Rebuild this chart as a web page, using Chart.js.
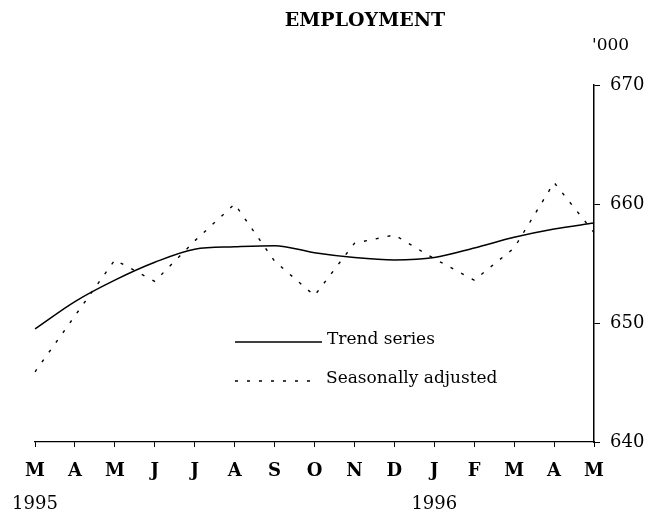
<!DOCTYPE html>
<html>
<head>
<meta charset="utf-8">
<style>
  html, body { margin: 0; padding: 0; background: #fff; }
  #wrap { width: 657px; height: 513px; }
</style>
<script src="https://cdn.jsdelivr.net/npm/chart.js@4.4.0/dist/chart.umd.min.js"></script>
</head>
<body>
<div id="wrap"><canvas id="chart" width="657" height="513"></canvas></div>
<script>
// data
var months = ['M', 'A', 'M', 'J', 'J', 'A', 'S', 'O', 'N', 'D', 'J', 'F', 'M', 'A', 'M'];
var years = ['1995', '', '', '', '', '', '', '', '', '', '1996', '', '', '', ''];
var trendSeries = [649.5, 651.8, 653.6, 655.1, 656.2, 656.4, 656.5, 655.9, 655.5, 655.3, 655.5, 656.3, 657.2, 657.9, 658.4];
var seasonallyAdjusted = [645.9, 650.6, 655.3, 653.5, 656.9, 660.0, 655.2, 652.3, 656.7, 657.4, 655.4, 653.6, 656.3, 661.8, 657.6];
var yTicks = [640, 650, 660, 670];
var chartTitle = 'EMPLOYMENT';
var unitLabel = "'000";

var serif = "'DejaVu Serif', 'Liberation Serif', serif";

// title, unit label and the in-plot legend
var overlayText = {
    id: 'overlayText',
    afterDraw: function(chart) {
        var ctx = chart.ctx;
        var area = chart.chartArea;
        ctx.save();
        ctx.fillStyle = '#000';
        ctx.textBaseline = 'middle';

        ctx.font = 'bold 19px ' + serif;
        ctx.textAlign = 'center';
        ctx.fillText(chartTitle, 365, 21);

        ctx.font = '17px ' + serif;
        ctx.textAlign = 'left';
        ctx.fillText(unitLabel, area.right - 2, 46);

        // legend
        var sets = chart.data.datasets;
        var rows = [342, 381];
        sets.forEach(function(ds, i) {
            var y = rows[i];
            ctx.strokeStyle = '#000';
            ctx.lineWidth = ds.borderWidth;
            ctx.setLineDash(ds.borderDash || []);
            ctx.beginPath();
            ctx.moveTo(235, y);
            ctx.lineTo(i === 0 ? 322 : 318, y);
            ctx.stroke();
            ctx.setLineDash([]);
            ctx.fillText(ds.label, i === 0 ? 327 : 326, y - 2);
        });
        ctx.restore();
    }
};

var ctx = document.getElementById('chart').getContext('2d');
var employmentChart = new Chart(ctx, {
    type: 'line',
    data: {
        labels: months,
        datasets: [{
            label: 'Trend series',
            data: trendSeries,
            borderColor: '#000',
            borderWidth: 1.5,
            pointRadius: 0,
            cubicInterpolationMode: 'monotone',
            fill: false
        }, {
            label: 'Seasonally adjusted',
            data: seasonallyAdjusted,
            borderColor: '#000',
            borderWidth: 1.4,
            borderDash: [3, 9],
            pointRadius: 0,
            tension: 0,
            fill: false
        }]
    },
    options: {
        responsive: false,
        animation: false,
        devicePixelRatio: 1,
        layout: {
            padding: { top: 85, left: 35, right: 0, bottom: 0 }
        },
        plugins: {
            legend: { display: false },
            title: { display: false },
            tooltip: { enabled: false }
        },
        scales: {
            x: {
                type: 'category',
                offset: false,
                grid: {
                    drawOnChartArea: false,
                    drawTicks: true,
                    tickLength: 5,
                    color: '#000',
                    lineWidth: 1
                },
                border: { display: true, color: '#000', width: 1.2 },
                ticks: {
                    autoSkip: false,
                    maxRotation: 0,
                    color: '#000',
                    padding: 14,
                    font: { family: serif, size: 18, weight: 'bold' }
                },
                afterFit: function(scale) { scale.height = 40; }
            },
            years: {
                type: 'category',
                position: 'bottom',
                labels: years,
                offset: false,
                grid: { display: false, drawTicks: false },
                border: { display: false },
                ticks: {
                    autoSkip: false,
                    maxRotation: 0,
                    color: '#000',
                    padding: 12,
                    font: { family: serif, size: 18 }
                },
                afterFit: function(scale) { scale.height = 31; }
            },
            y: {
                position: 'right',
                min: 640,
                max: 670,
                afterBuildTicks: function(scale) {
                    scale.ticks = yTicks.map(function(v) { return { value: v }; });
                },
                grid: {
                    drawOnChartArea: false,
                    drawTicks: true,
                    tickLength: 6,
                    color: '#000',
                    lineWidth: 1
                },
                border: { display: true, color: '#000', width: 1.5 },
                ticks: {
                    color: '#000',
                    padding: 10,
                    font: { family: serif, size: 18 }
                },
                afterFit: function(scale) { scale.width = 63; }
            }
        }
    },
    plugins: [overlayText]
});
</script>
</body>
</html>
